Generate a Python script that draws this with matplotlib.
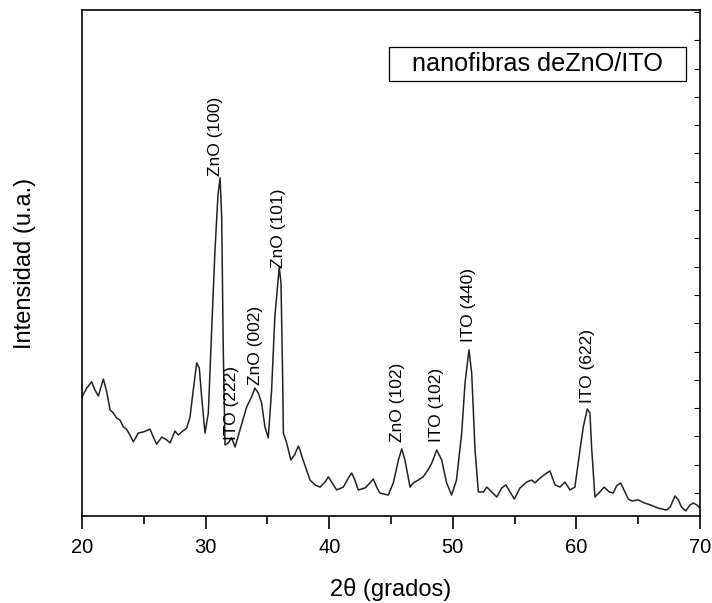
import matplotlib
matplotlib.use('Agg')
import matplotlib.pyplot as plt
from matplotlib.patches import Rectangle
from matplotlib.ticker import MultipleLocator, NullFormatter

plt.rcParams['font.family'] = ['Liberation Sans', 'DejaVu Sans']

# XRD pattern (2theta in degrees, intensity in counts)
two_theta = [
	20.0, 20.38, 20.78, 21.05, 21.32, 21.73, 22.0, 22.27, 22.53, 22.8,
	23.07, 23.34, 23.6, 23.88, 24.15, 24.55, 24.96, 25.5, 25.77, 26.04,
	26.45, 26.85, 27.12, 27.52, 27.8, 28.07, 28.47, 28.74, 29.0, 29.28,
	29.49, 29.68, 29.95, 30.22, 30.49, 30.76, 31.0, 31.17, 31.3, 31.43,
	31.57, 31.83, 32.1, 32.38, 32.78, 33.32, 33.72, 33.99, 34.26, 34.53,
	34.8, 35.07, 35.34, 35.6, 35.96, 36.1, 36.24, 36.29, 36.56, 36.9,
	37.2, 37.5, 37.64, 37.8, 38.45, 38.85, 39.26, 39.66, 39.93, 40.2,
	40.6, 41.14, 41.55, 41.82, 42.08, 42.35, 42.9, 43.3, 43.57, 43.84,
	44.1, 44.78, 45.19, 45.6, 45.87, 46.13, 46.54, 46.8, 47.2, 47.6,
	48.0, 48.3, 48.7, 49.1, 49.5, 49.9, 50.3, 50.72, 50.99, 51.31,
	51.53, 51.8, 52.07, 52.48, 52.75, 53.15, 53.56, 53.96, 54.3, 54.63,
	54.98, 55.44, 55.98, 56.38, 56.65, 57.06, 57.6, 57.86, 58.27, 58.67,
	59.08, 59.48, 59.88, 60.29, 60.56, 60.88, 61.1, 61.23, 61.5, 61.9,
	62.25, 62.66, 62.98, 63.25, 63.58, 63.85, 64.2, 64.5, 65.0, 65.5,
	66.0, 66.6, 67.3, 67.6, 67.98, 68.25, 68.5, 68.85, 69.2, 69.47,
	69.74, 70.0,
]
intensity = [
	440, 471, 493, 464, 443, 503, 457, 394, 383, 365,
	358, 334, 326, 305, 281, 312, 316, 326, 298, 273,
	298, 288, 277, 319, 305, 316, 330, 369, 464, 560,
	542, 440, 312, 383, 676, 959, 1153, 1214, 1076, 606,
	270, 277, 295, 263, 323, 404, 440, 471, 454, 418,
	334, 295, 464, 722, 899, 842, 489, 312, 277, 217,
	235, 266, 252, 228, 146, 129, 121, 139, 157, 139,
	111, 121, 153, 171, 146, 111, 118, 136, 150, 121,
	100, 93, 136, 217, 256, 217, 121, 136, 146, 157,
	182, 206, 252, 217, 136, 93, 146, 312, 489, 606,
	524, 252, 104, 104, 121, 104, 86, 118, 129, 104,
	79, 118, 139, 146, 136, 153, 171, 178, 129, 121,
	139, 111, 121, 252, 334, 397, 383, 263, 86, 104,
	121, 104, 100, 125, 136, 111, 79, 72, 76, 65,
	58, 47, 40, 51, 90, 76, 51, 37, 58, 65,
	58, 47,
]

# peak labels: text, 2theta, bottom of label (counts)
peak_names = ['ZnO (100)', 'ITO (222)', 'ZnO (002)', 'ZnO (101)',
			  'ZnO (102)', 'ITO (102)', 'ITO (440)', 'ITO (622)']
peak_x = [30.76, 32.1, 34.0, 35.9, 45.5, 48.7, 51.3, 60.9]
peak_y = [1221, 288, 482, 895, 281, 281, 634, 418]

fig = plt.figure(figsize=(7.12, 6.03), dpi=100)
ax = fig.add_axes([0.1152, 0.1443, 0.8679, 0.8391])

ax.plot(two_theta, intensity, color='#222222', linewidth=1.1, solid_joinstyle='round')

for name, px, py in zip(peak_names, peak_x, peak_y):
	ax.text(px, py, name, rotation=90, ha='center', va='bottom', fontsize=12.5, color='black')

ax.set_xlim(20, 70)
ax.set_ylim(19, 1807)

ax.xaxis.set_major_locator(MultipleLocator(10))
ax.xaxis.set_minor_locator(MultipleLocator(5))
ax.tick_params(axis='x', which='major', direction='out', length=9, width=1.2, labelsize=14.5, pad=7)
ax.tick_params(axis='x', which='minor', direction='out', length=6, width=1.2)
ax.tick_params(axis='x', top=False)

ax.yaxis.set_major_locator(MultipleLocator(100))
ax.yaxis.set_major_formatter(NullFormatter())
ax.tick_params(axis='y', which='major', left=False, right=True, direction='in', length=4, width=0.8,
			   labelleft=False, labelright=False)

for spine in ax.spines.values():
	spine.set_linewidth(1.2)
	spine.set_color('black')

fig.text(0.549, 0.012, '2θ (grados)', ha='center', va='baseline', fontsize=17)
fig.text(0.035, 0.5636, 'Intensidad (u.a.)', ha='center', va='center', rotation=90, fontsize=17)

# sample box
ax.add_patch(Rectangle((0.497, 0.860), 0.480, 0.066, transform=ax.transAxes,
					   fill=False, edgecolor='black', linewidth=0.9))
ax.text(0.737, 0.893, 'nanofibras deZnO/ITO', transform=ax.transAxes,
		ha='center', va='center', fontsize=18.2)

fig.savefig('out.png', dpi=100)
